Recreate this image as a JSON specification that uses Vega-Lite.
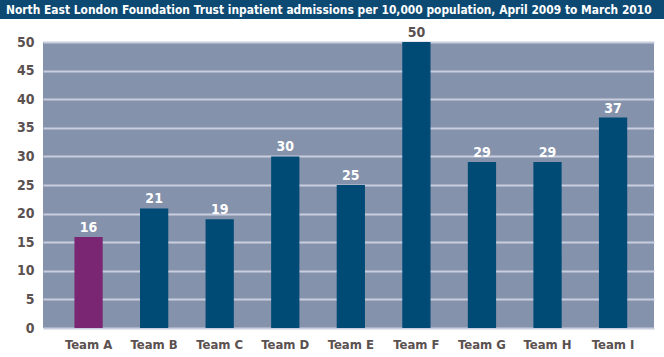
{
  "$schema": "https://vega.github.io/schema/vega-lite/v6.json",
  "padding": 0,
  "background": "white",
  "bounds": "flush",
  "spacing": 23,
  "config": {
    "font": "DejaVu Sans Condensed, DejaVu Sans, sans-serif",
    "view": {"stroke": null}
  },
  "vconcat": [
    {
      "width": 664,
      "height": 19,
      "view": {"fill": "#0d4a73", "stroke": null},
      "data": {"values": [{"t": "North East London Foundation Trust inpatient admissions per 10,000 population, April 2009 to March 2010"}]},
      "mark": {"type": "text", "align": "left", "baseline": "middle", "color": "white", "fontWeight": "bold", "fontSize": 11.9},
      "encoding": {
        "text": {"field": "t"},
        "x": {"value": 6},
        "y": {"value": 9.5}
      }
    },
    {
      "bounds": "flush",
      "spacing": 0,
      "hconcat": [
        {
          "width": 43,
          "height": 286,
          "view": {"fill": null, "stroke": null},
          "data": {"values": [{"s": ""}]},
          "mark": {"type": "text", "opacity": 0},
          "encoding": {"text": {"field": "s"}}
        },
        {
          "width": 611,
          "height": 286,
          "view": {"fill": "#8592ab", "stroke": null},
          "data": {"values": [
            {"team": "Team A", "v": 15.9, "g": "a"},
            {"team": "Team B", "v": 20.9, "g": "b"},
            {"team": "Team C", "v": 19, "g": "b"},
            {"team": "Team D", "v": 30, "g": "b"},
            {"team": "Team E", "v": 25, "g": "b"},
            {"team": "Team F", "v": 50, "g": "b"},
            {"team": "Team G", "v": 29, "g": "b"},
            {"team": "Team H", "v": 29, "g": "b"},
            {"team": "Team I", "v": 36.8, "g": "b"}
          ]},
          "encoding": {
            "x": {
              "field": "team", "type": "nominal", "sort": null,
              "scale": {"paddingInner": 0.569, "paddingOuter": 0.444, "align": 0.54},
              "axis": {"title": null, "labelAngle": 0, "ticks": false, "domain": false, "labelPadding": 10, "labelFontWeight": "bold", "labelFontSize": 13, "labelColor": "#5b5150"}
            },
            "y": {
              "field": "v", "type": "quantitative",
              "scale": {"domain": [0, 50], "nice": false},
              "axis": {"title": null, "values": [0, 5, 10, 15, 20, 25, 30, 35, 40, 45, 50], "ticks": false, "domain": false, "grid": true, "gridColor": "#c9cedf", "gridWidth": 2, "gridOpacity": 1, "labelPadding": 9, "labelFontWeight": "bold", "labelFontSize": 14, "labelColor": "#5b5150"}
            }
          },
          "layer": [
            {
              "mark": {"type": "bar"},
              "encoding": {
                "color": {"field": "g", "type": "nominal", "scale": {"domain": ["a", "b"], "range": ["#7b2673", "#004b76"]}, "legend": null}
              }
            },
            {
              "mark": {"type": "text", "baseline": "alphabetic", "dy": -5, "fontWeight": "bold", "fontSize": 14},
              "encoding": {
                "text": {"field": "v", "type": "quantitative", "format": ".0f"},
                "color": {"condition": {"test": "datum.v >= 50", "value": "#5b5150"}, "value": "white"}
              }
            }
          ]
        }
      ]
    }
  ]
}
